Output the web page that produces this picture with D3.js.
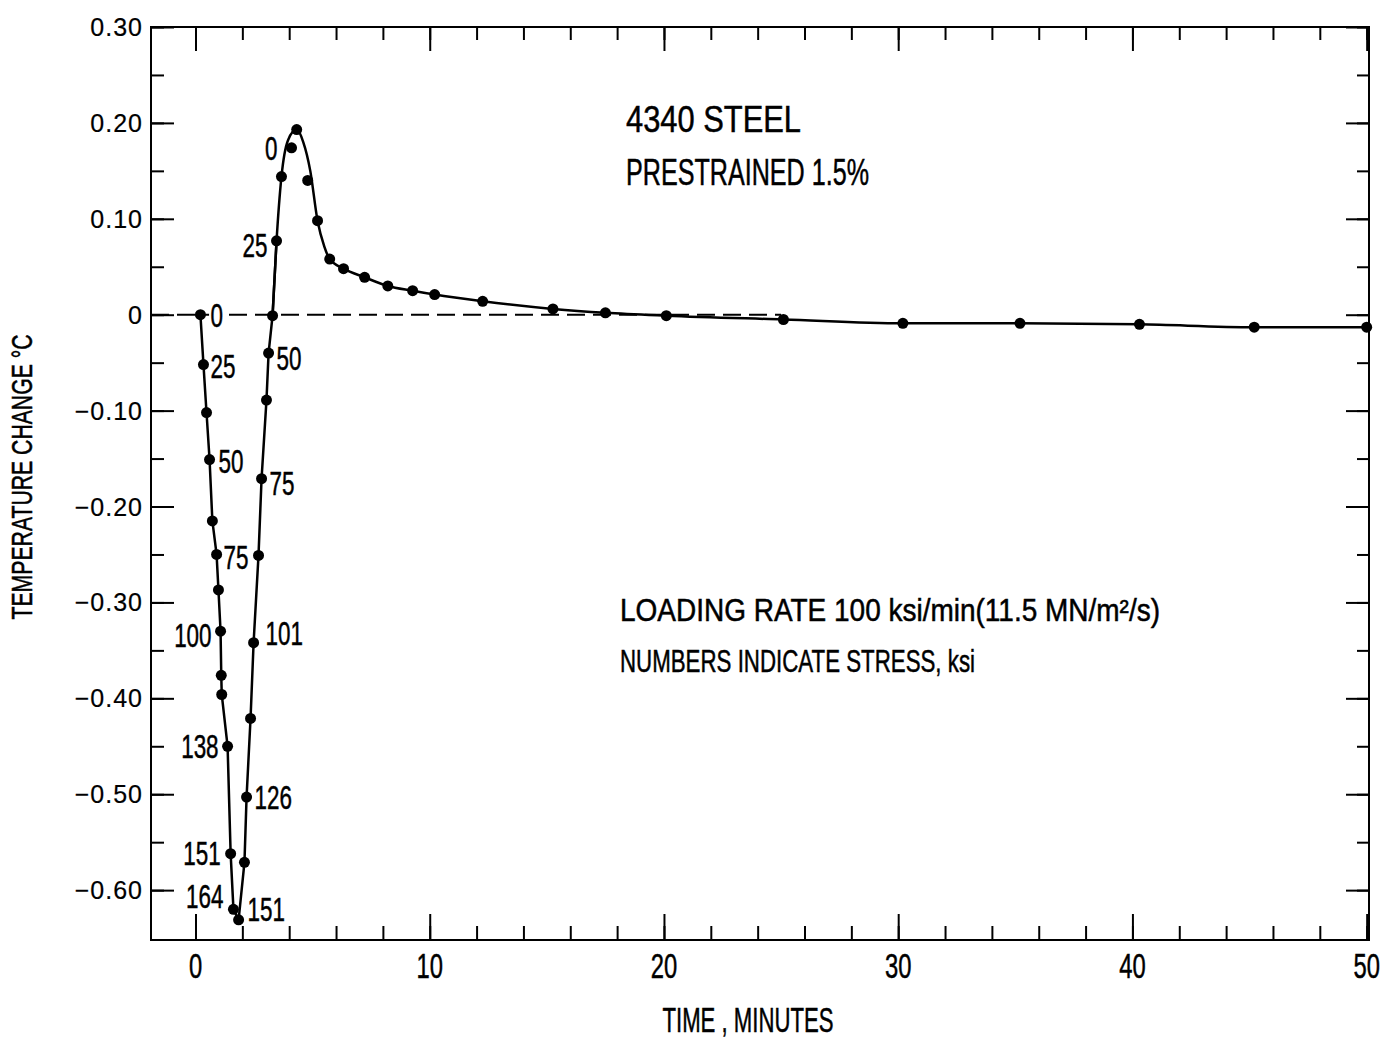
<!DOCTYPE html>
<meta charset="utf-8">
<title>4340 steel, temperature change under loading</title>
<style>
body { margin:0; background:#fff; }
svg text { font-family: "Liberation Sans", Arial, sans-serif; fill:#000; stroke:#000; stroke-width:0.5px; }
.axis path { display:none; }
.axis line { stroke:#000; stroke-width:2px; }
</style>
<svg width="1386" height="1042"></svg>
<script src="https://d3js.org/d3.v7.min.js"></script>
<script>

// measured points: time (min) and temperature change (deg C)
var timeMin = [0.21,0.34,0.47,0.60,0.72,0.90,0.98,1.07,1.10,1.12,1.37,1.50,1.62,1.84,
               2.09,2.18,2.35,2.48,2.69,2.82,3.03,3.12,3.29,
               3.46,3.67,4.10,4.32,4.79,5.21,5.73,6.32,7.22,8.21,9.27,10.21,12.26,15.26,
               17.5,20.1,25.1,30.2,35.2,40.3,45.2,50.0];
var tempChange = [0.000,-0.052,-0.102,-0.151,-0.215,-0.250,-0.287,-0.330,-0.376,-0.396,-0.450,-0.562,-0.620,-0.631,
                  -0.571,-0.503,-0.421,-0.342,-0.251,-0.171,-0.089,-0.040,-0.001,
                  0.077,0.144,0.174,0.193,0.140,0.098,0.058,0.048,0.039,0.030,0.025,0.021,0.014,0.006,
                  0.002,-0.001,-0.005,-0.009,-0.009,-0.010,-0.013,-0.013];

// the faired curve: straight through the loading / unloading legs ...
var legTime = [0.21,0.34,0.47,0.60,0.72,0.90,0.98,1.07,1.10,1.12,1.37,1.50,1.62,1.84,
               2.09,2.18,2.35,2.48,2.69,2.82,3.03,3.12,3.29,3.46];
var legTemp = [0.000,-0.052,-0.102,-0.151,-0.215,-0.250,-0.287,-0.330,-0.376,-0.396,-0.450,-0.562,-0.620,-0.631,
               -0.571,-0.503,-0.421,-0.342,-0.251,-0.171,-0.089,-0.040,-0.001,0.077];
// ... and smooth over the peak and the recovery
var fitTime = [3.29,3.46,3.67,3.95,4.32,4.60,4.90,5.21,5.50,5.73,6.32,7.22,8.21,9.27,10.21,12.26,15.26,
               17.5,20.1,25.1,30.2,35.2,40.3,45.2,50.0];
var fitTemp = [-0.001,0.077,0.144,0.182,0.193,0.180,0.150,0.098,0.071,0.058,0.048,0.039,0.030,0.025,0.021,0.014,0.006,
               0.002,-0.001,-0.005,-0.009,-0.009,-0.010,-0.013,-0.013];

// stress (ksi) written beside some points
var stressIdx  = [0,1,3,5,7,10,11,12,13,15,17,19,21,23,25];
var stressText = ["0","25","50","75","100","138","151","164","151","126","101","75","50","25","0"];

var xMajor = [0,10,20,30,40,50];
var yMajor = [0.30,0.20,0.10,0,-0.10,-0.20,-0.30,-0.40,-0.50,-0.60];
var yLabels = ["0.30","0.20","0.10","0","\u22120.10","\u22120.20","\u22120.30","\u22120.40","\u22120.50","\u22120.60"];

var svg = d3.select("svg");
var L = 151, R = 1369, T = 27, B = 940;

var x = d3.scaleLinear().domain([-1.9, 50.1]).range([L, R]);
var y = d3.scaleLinear().domain([-0.652, 0.300]).range([B, T]);

// text squeezed horizontally to look like lettering-guide type
function ctext(g, px, py, str, size, sx, anchor) {
  return g.append("text")
    .attr("transform", "translate(" + px + "," + py + ") scale(" + sx + ",1)")
    .attr("text-anchor", anchor || "start")
    .style("font-size", size + "px")
    .text(str);
}

// ticks (all pointing inward)
var xMinor = d3.range(0, 51, 2);
var yMinor = d3.range(-12, 7).map(function(k){ return k * 0.05; });

svg.append("g").attr("class","axis").attr("transform","translate(0," + B + ")")
   .call(d3.axisBottom(x).tickValues(xMinor).tickSize(-14).tickFormat(""));
svg.append("g").attr("class","axis").attr("transform","translate(0," + B + ")")
   .call(d3.axisBottom(x).tickValues(xMajor).tickSize(-26).tickFormat(""));
svg.append("g").attr("class","axis").attr("transform","translate(0," + T + ")")
   .call(d3.axisTop(x).tickValues(xMinor).tickSize(-13).tickFormat(""));
svg.append("g").attr("class","axis").attr("transform","translate(0," + T + ")")
   .call(d3.axisTop(x).tickValues(xMajor).tickSize(-24).tickFormat(""));
svg.append("g").attr("class","axis").attr("transform","translate(" + L + ",0)")
   .call(d3.axisLeft(y).tickValues(yMinor).tickSize(-13).tickFormat(""));
svg.append("g").attr("class","axis").attr("transform","translate(" + L + ",0)")
   .call(d3.axisLeft(y).tickValues(yMajor).tickSize(-23).tickFormat(""));
svg.append("g").attr("class","axis").attr("transform","translate(" + R + ",0)")
   .call(d3.axisRight(y).tickValues(yMinor).tickSize(-12).tickFormat(""));
svg.append("g").attr("class","axis").attr("transform","translate(" + R + ",0)")
   .call(d3.axisRight(y).tickValues(yMajor).tickSize(-23).tickFormat(""));

svg.append("rect")
   .attr("x", L).attr("y", T).attr("width", R - L).attr("height", B - T)
   .style("fill","none").style("stroke","#000").style("stroke-width","2px");

// tick labels
yMajor.forEach(function(v, i) {
  svg.append("text")
     .attr("x", 143).attr("y", y(v)).attr("dy","0.36em")
     .attr("text-anchor","end")
     .style("font-size","25px").style("letter-spacing","1px")
     .style("stroke-width","0.2px")
     .text(yLabels[i]);
});
var xl = svg.append("g");
xMajor.forEach(function(v) {
  ctext(xl, x(v), 978, String(v), 35, 0.68, "middle");
});

// axis titles
svg.append("text")
   .attr("x", 748).attr("y", 1032).attr("text-anchor","middle")
   .attr("textLength", 171).attr("lengthAdjust","spacingAndGlyphs")
   .style("font-size","35px").text("TIME , MINUTES");
svg.append("text")
   .attr("transform","translate(32,477) rotate(-90)").attr("text-anchor","middle")
   .attr("textLength", 285).attr("lengthAdjust","spacingAndGlyphs")
   .style("font-size","29px").text("TEMPERATURE CHANGE \u00B0C");

// zero line
svg.append("line")
   .attr("x1", x(-1.9)).attr("x2", x(25)).attr("y1", y(0)).attr("y2", y(0))
   .style("stroke","#000").style("stroke-width","2px").style("stroke-dasharray","18,8");

// faired curve
var line = d3.line().x(function(d){ return x(d[0]); }).y(function(d){ return y(d[1]); });
svg.append("path")
   .datum(legTime.map(function(t, i){ return [t, legTemp[i]]; }))
   .attr("d", line)
   .style("fill","none").style("stroke","#000").style("stroke-width","2.5px");
svg.append("path")
   .datum(fitTime.map(function(t, i){ return [t, fitTemp[i]]; }))
   .attr("d", line.curve(d3.curveMonotoneX))
   .style("fill","none").style("stroke","#000").style("stroke-width","2.5px");

// points
svg.selectAll(".pt")
   .data(timeMin.map(function(t, i){ return [t, tempChange[i]]; }))
   .enter().append("circle")
   .attr("class","pt")
   .attr("cx", function(d){ return x(d[0]); })
   .attr("cy", function(d){ return y(d[1]); })
   .attr("r", 5.5)
   .style("fill","#000");

// stress labels: side, horizontal gap and vertical nudge for each
var labelSide = ["R","R","R","R","L","L","L","L","R","R","R","R","R","L","L"];
var labelGap  = [10,7,9,7,9,9,10,10,9,8,12,8,8,9,14];
var labelDy   = [0,1,1,3,4,0,-1,-13,-11,0,-10,4,5,4,0];
var lg = svg.append("g");
stressIdx.forEach(function(k, i) {
  var px = x(timeMin[k]), py = y(tempChange[k]) + labelDy[i] + 12;
  var right = labelSide[i] === "R";
  var t = ctext(lg, right ? px + labelGap[i] : px - labelGap[i], py, stressText[i], 33, 0.68, right ? "start" : "end");
  if (i === 0) {
    // clear the dashed zero line behind this label
    var bb = t.node().getBBox();
    lg.insert("rect", function(){ return t.node(); })
      .attr("transform", t.attr("transform"))
      .attr("x", bb.x - 2).attr("y", bb.y + 4).attr("width", bb.width + 2).attr("height", bb.height - 8)
      .style("fill","#fff");
  }
});

// annotations
function note(px, py, size, len, str) {
  svg.append("text").attr("x", px).attr("y", py)
     .attr("textLength", len).attr("lengthAdjust","spacingAndGlyphs")
     .style("font-size", size + "px").text(str);
}
note(626, 132, 37, 175, "4340 STEEL");
note(626, 185, 37, 243, "PRESTRAINED 1.5%");
note(620, 621, 31, 540, "LOADING RATE  100 ksi/min(11.5 MN/m\u00B2/s)");
note(620, 672, 31, 355, "NUMBERS  INDICATE  STRESS, ksi");

</script>
